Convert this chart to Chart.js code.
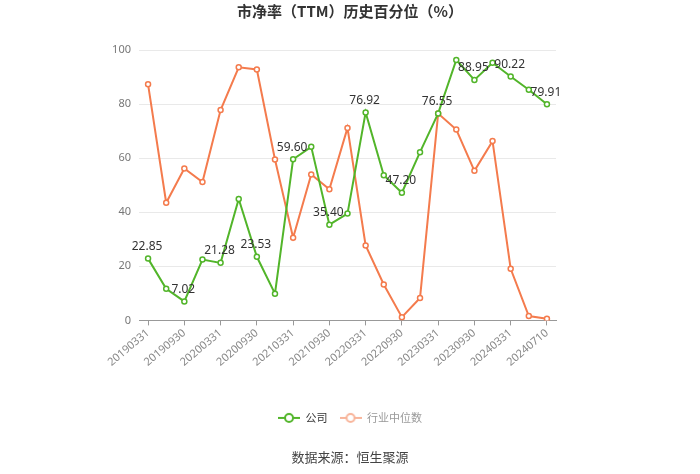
<!DOCTYPE html>
<html><head><meta charset="utf-8">
<script src="https://cdn.jsdelivr.net/npm/chart.js@4.4.0/dist/chart.umd.min.js"></script>
<style>html,body{margin:0;padding:0;background:#fff}#wrap{width:700px;height:474px}</style>
</head><body><div id="wrap"><canvas id="c" width="700" height="474"></canvas></div>
<script>
const categories = ["20190331","20190630","20190930","20191231","20200331","20200630","20200930","20201231","20210331","20210630","20210930","20211231","20220331","20220630","20220930","20221231","20230331","20230630","20230930","20231231","20240331","20240630","20240710"];
const companyValues = [22.85,11.7,7.02,22.5,21.28,44.9,23.53,9.9,59.60,64.2,35.40,39.5,76.92,53.7,47.20,62.2,76.55,96.3,88.95,95.3,90.22,85.3,79.91];
const industryValues = [87.3,43.5,56.2,51.2,77.8,93.6,92.8,59.5,30.6,54.0,48.5,71.2,27.7,13.3,1.2,8.3,76.5,70.6,55.3,66.3,19.1,1.6,0.6];
const yTicks = [0,20,40,60,80,100];

const GREEN = '#52b52a', ORANGE = '#f47b4d';
function icon(color){
  const c = document.createElement('canvas'); c.width = 22; c.height = 12;
  const x = c.getContext('2d');
  x.strokeStyle = color; x.lineWidth = 2;
  x.beginPath(); x.moveTo(0,6); x.lineTo(22,6); x.stroke();
  x.fillStyle = '#fff'; x.beginPath(); x.arc(11,6,4,0,Math.PI*2); x.fill(); x.stroke();
  return c;
}
const labelPlugin = {
  id:'valLabels',
  afterDatasetsDraw(chart){
    const ctx = chart.ctx; const meta = chart.getDatasetMeta(0);
    ctx.save(); ctx.font = '12px "Noto Sans", sans-serif'; ctx.fillStyle = '#333';
    ctx.textAlign = 'center'; ctx.textBaseline = 'bottom';
    meta.data.forEach((p,i)=>{ if(i%2===0){ ctx.fillText(companyValues[i].toFixed(2), p.x - 1, p.y-6); } });
    ctx.restore();
  }
};
new Chart(document.getElementById('c'), {
  type:'line',
  data:{ labels:categories, datasets:[
    {label:'公司', data:companyValues, borderColor:GREEN, backgroundColor:'#fff', borderWidth:2, pointRadius:2.5, pointBorderWidth:1.5, pointBackgroundColor:'#fff', pointBorderColor:GREEN, tension:0},
    {label:'行业中位数', data:industryValues, borderColor:ORANGE, backgroundColor:'#fff', borderWidth:2, pointRadius:2.5, pointBorderWidth:1.5, pointBackgroundColor:'#fff', pointBorderColor:ORANGE, tension:0}
  ]},
  options:{
    responsive:false, animation:false,
    layout:{padding:{left:0,right:0,top:1,bottom:9}},
    scales:{
      x:{ offset:true,
        afterFit:(s)=>{ s.height = 80; },
        grid:{display:true, drawOnChartArea:false, offset:false, tickLength:5, tickColor:(c)=> (c.index%2===0?'#999':'rgba(0,0,0,0)')},
        border:{display:true,color:'#999'},
        ticks:{autoSkip:false, maxRotation:40, minRotation:40, color:'#888', font:{size:11,family:'"Noto Sans", sans-serif'}, padding:1,
          callback:function(v,i){ return i%2===0 ? categories[i] : ''; }}
      },
      y:{ min:0, max:100, afterBuildTicks:(ax)=>{ ax.ticks = yTicks.map(v=>({value:v})); },
        afterFit:(s)=>{ s.width = 139; },
        grid:{color:'#e9e9e9', drawTicks:false}, border:{display:false},
        ticks:{color:'#777', font:{size:11,family:'"Noto Sans", sans-serif'}, padding:8}
      },
      yR:{ position:'right', display:true, afterFit:(s)=>{ s.width = 144; },
        grid:{display:false, drawTicks:false}, border:{display:false}, ticks:{display:false}
      }
    },
    plugins:{
      title:{display:true, text:'市净率（TTM）历史百分位（%）', color:'#333', font:{size:15, weight:'bold', family:'"Noto Sans CJK SC", sans-serif'}, padding:{top:1,bottom:30}},
      subtitle:{display:true, position:'bottom', text:'数据来源：恒生聚源', color:'#444', font:{size:13,family:'"Noto Sans CJK SC", sans-serif'}, padding:{top:16,bottom:0}},
      legend:{position:'bottom', labels:{usePointStyle:true, pointStyleWidth:22, boxHeight:11, padding:12, font:{size:11,family:'"Noto Sans CJK SC", sans-serif'},
        generateLabels:()=>[
          {text:'公司', pointStyle:icon(GREEN), fontColor:'#333', strokeStyle:GREEN, fillStyle:'#fff', datasetIndex:0},
          {text:'行业中位数', pointStyle:icon('#f8b59b'), fontColor:'#999', strokeStyle:ORANGE, fillStyle:'#fff', datasetIndex:1}
        ]}},
      tooltip:{enabled:false}
    }
  },
  plugins:[labelPlugin]
});
</script></body></html>
